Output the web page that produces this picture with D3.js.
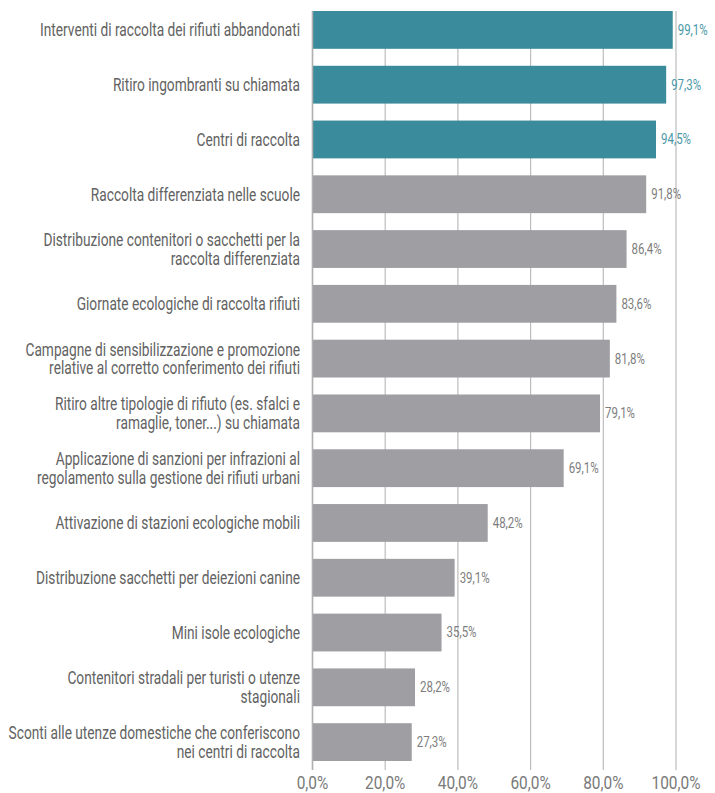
<!DOCTYPE html>
<html><head><meta charset="utf-8">
<script src="https://cdn.jsdelivr.net/npm/d3@7"></script>
<style>
body{margin:0;background:#fff;}
text{font-family:"Roboto",sans-serif;}
</style></head>
<body><svg id="c" width="715" height="793"></svg>
<script>
const categories = [
  ["Interventi di raccolta dei rifiuti abbandonati"],
  ["Ritiro ingombranti su chiamata"],
  ["Centri di raccolta"],
  ["Raccolta differenziata nelle scuole"],
  ["Distribuzione contenitori o sacchetti per la","raccolta differenziata"],
  ["Giornate ecologiche di raccolta rifiuti"],
  ["Campagne di sensibilizzazione e promozione","relative al corretto conferimento dei rifiuti"],
  ["Ritiro altre tipologie di rifiuto (es. sfalci e","ramaglie, toner...) su chiamata"],
  ["Applicazione di sanzioni per infrazioni al","regolamento sulla gestione dei rifiuti urbani"],
  ["Attivazione di stazioni ecologiche mobili"],
  ["Distribuzione sacchetti per deiezioni canine"],
  ["Mini isole ecologiche"],
  ["Contenitori stradali per turisti o utenze","stagionali"],
  ["Sconti alle utenze domestiche che conferiscono","nei centri di raccolta"]
];
const values = [99.1, 97.3, 94.5, 91.8, 86.4, 83.6, 81.8, 79.1, 69.1, 48.2, 39.1, 35.5, 28.2, 27.3];
const highlighted = [true, true, true, false, false, false, false, false, false, false, false, false, false, false];
const ticks = [0, 20, 40, 60, 80, 100];

const svg = d3.select("#c");
const x = d3.scaleLinear().domain([0, 100]).range([312.5, 676]);
const y = d3.scaleBand().domain(d3.range(values.length)).range([11, 761]).paddingInner(0.31).paddingOuter(0);
const fmt = v => d3.format(".1f")(v).replace(".", ",") + "%";

// measure helper: horizontal condensing factor so a sample string matches the reference width
function condense(sample, size, target) {
  const t = svg.append("text").attr("font-size", size).text(sample);
  const w = t.node().getComputedTextLength();
  t.remove();
  return target / w;
}
const kCat = condense("Interventi di raccolta dei rifiuti abbandonati", 18, 260);
const kVal = condense("99,1%", 14, 30);
const kTick = condense("100,0%", 18.5, 49);

// gridlines
svg.append("g").selectAll("line").data(ticks).join("line")
  .attr("x1", d => x(d)).attr("x2", d => x(d))
  .attr("y1", 11).attr("y2", 770)
  .attr("stroke", "#bdbdbd").attr("stroke-width", 1.2);

// bars
svg.append("g").selectAll("rect").data(values).join("rect")
  .attr("x", x(0)).attr("y", (d, i) => y(i))
  .attr("width", d => x(d) - x(0)).attr("height", y.bandwidth())
  .attr("fill", (d, i) => highlighted[i] ? "#3a8b9c" : "#9e9ea3");

// zero axis line
svg.append("line").attr("x1", x(0)).attr("x2", x(0)).attr("y1", 11).attr("y2", 770)
  .attr("stroke", "#b0b0b0").attr("stroke-width", 1.5);

// value labels
svg.append("g").selectAll("text").data(values).join("text")
  .attr("transform", (d, i) => `translate(${x(d) + 5},${y(i) + y.bandwidth() / 2}) scale(${kVal},1)`)
  .attr("dy", "0.35em").attr("font-size", 14)
  .attr("fill", (d, i) => highlighted[i] ? "#4b98a8" : "#7d7d7d")
  .text(fmt);

// category labels
const lab = svg.append("g").selectAll("text").data(categories).join("text")
  .attr("text-anchor", "end").attr("font-size", 18).attr("fill", "#626262")
  .attr("transform", (d, i) => `translate(300,${y(i) + y.bandwidth() / 2}) scale(${kCat},1)`);
lab.selectAll("tspan").data(d => d.map((t, k) => ({t, k, n: d.length}))).join("tspan")
  .attr("x", 0)
  .attr("dy", d => d.k === 0 ? (0.35 - (d.n - 1) * 0.52) + "em" : "1.04em")
  .text(d => d.t);

// x axis tick labels
svg.append("g").selectAll("text").data(ticks).join("text")
  .attr("transform", d => `translate(${x(d)},789) scale(${kTick},1)`).attr("text-anchor", "middle")
  .attr("font-size", 18.5).attr("fill", "#7a7a7a")
  .text(d => d3.format(".1f")(d).replace(".", ",") + "%");
</script></body></html>
